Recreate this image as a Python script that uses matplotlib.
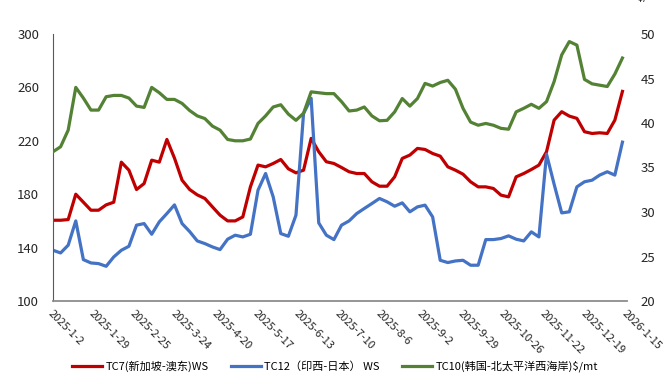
import matplotlib
matplotlib.use("Agg")
import matplotlib.pyplot as plt
import pandas as pd

plt.rcParams['font.family'] = ['Noto Sans CJK SC', 'DejaVu Sans']

# one reading every 5 days, 2025-1-2 .. 2026-1-12
dates = pd.date_range('2025-01-02', periods=76, freq='5D')

# TC7 (WS, left axis)
tc7 = [160.5, 160.5, 161, 180, 174, 168, 168, 172, 174, 204,
       198, 183.5, 188, 205.5, 204, 221, 207, 190.5, 183.5, 179.5,
       176.8, 170.5, 164.3, 160, 160, 163, 185.5, 201.8, 200.5, 203,
       206, 199, 196, 198, 221.8, 211.8, 204.3, 203, 200, 196.8,
       195.5, 195.5, 189.3, 186, 186, 193, 206.8, 209.3, 214.3, 213.5,
       210.5, 208.5, 200.5, 198, 195, 189.3, 185.5, 185.5, 184.3, 179.3,
       178, 193, 195.5, 198.5, 201.8, 211.8, 235.5, 241.8, 238.5, 236.8,
       226.8, 225.5, 226, 225.5, 235.5, 257]

# TC12 (WS, left axis)
tc12 = [138, 136, 141.8, 160, 131, 128.5, 128, 126, 133, 138,
        141, 156.8, 158, 150, 159.3, 165.5, 172, 158, 152, 145,
        143, 140.5, 138.5, 146.3, 149.3, 148, 150, 183, 195.5, 178,
        150.5, 148.5, 164.3, 240.5, 251.8, 158.5, 149.3, 146, 156.8, 160,
        165.5, 169.3, 173, 176.8, 174.3, 171, 173.5, 166.8, 170.5, 171.8,
        163, 130.5, 128.8, 130, 130.5, 126.8, 126.8, 146, 146, 146.8,
        148.8, 146.3, 145, 151.8, 148, 210, 187.5, 166, 166.8, 185.5,
        189.3, 190.5, 194.3, 196.8, 194.3, 219]

# TC10 ($/mt, right axis)
tc10 = [36.77, 37.33, 39.2, 44.0, 42.8, 41.45, 41.45, 42.95, 43.1, 43.1,
        42.8, 41.9, 41.75, 44.0, 43.4, 42.65, 42.65, 42.2, 41.4, 40.8,
        40.5, 39.65, 39.2, 38.15, 38.0, 38.0, 38.2, 39.95, 40.8, 41.8,
        42.05, 41.0, 40.3, 41.1, 43.5, 43.4, 43.3, 43.3, 42.4, 41.35,
        41.45, 41.8, 40.8, 40.25, 40.3, 41.25, 42.75, 41.9, 42.75, 44.45,
        44.15, 44.55, 44.8, 43.8, 41.65, 40.1, 39.75, 39.95, 39.75, 39.4,
        39.3, 41.25, 41.65, 42.1, 41.65, 42.4, 44.65, 47.65, 49.15, 48.75,
        44.9, 44.4, 44.25, 44.1, 45.5, 47.3]

names = ['TC7(新加坡-澳东)WS', 'TC12（印西-日本） WS', 'TC10(韩国-北太平洋西海岸)$/mt']
colors = ['#C00000', '#4472C4', '#548235']

tick_dates = pd.date_range('2025-01-02', '2026-01-15', freq='27D')
tick_labels = [f"{d.year}-{d.month}-{d.day}" for d in tick_dates]

fig = plt.figure(figsize=(6.7, 3.8), dpi=100)
ax = fig.add_axes([53/670, 79/380, 574/670, 267/380])
ax2 = ax.twinx()

l1, = ax.plot(dates, tc7, color=colors[0], lw=2.3, label=names[0])
l2, = ax.plot(dates, tc12, color=colors[1], lw=2.3, label=names[1])
l3, = ax2.plot(dates, tc10, color=colors[2], lw=2.3, label=names[2])

ax.set_xlim(tick_dates[0], tick_dates[-1])
ax.set_ylim(100, 300)
ax.set_yticks(range(100, 301, 40))
ax2.set_ylim(20, 50)
ax2.set_yticks(range(20, 51, 5))

ax.set_xticks(tick_dates)
ax.set_xticklabels(tick_labels, rotation=-45, ha='left', va='top',
                   rotation_mode='anchor', fontsize=8, color='#262626')
ax.tick_params(axis='x', length=0, pad=5)
ax.tick_params(axis='y', length=0, pad=10, labelsize=9.5, labelcolor='#262626')
ax2.tick_params(axis='y', length=0, pad=10, labelsize=9.5, labelcolor='#262626')

for s in ['top', 'right']:
    ax.spines[s].set_visible(False)
for s in ax2.spines.values():
    s.set_visible(False)
ax.spines['left'].set_color('#595959')
ax.spines['bottom'].set_color('#8c8c8c')
ax.spines['bottom'].set_linewidth(1.3)

fig.text(34/670, 1 - 3/380, 'WS', ha='center', va='bottom', fontsize=9, color='#262626')
fig.text(650/670, 1 - 3/380, '$/mt', ha='center', va='bottom', fontsize=9, color='#262626')

fig.legend(handles=[l1, l2, l3], loc='center', bbox_to_anchor=(0.5, 14/380),
           ncol=3, frameon=False, fontsize=8, handlelength=2.7,
           handletextpad=0.3, columnspacing=2.0)

fig.savefig('out.png', dpi=100)
